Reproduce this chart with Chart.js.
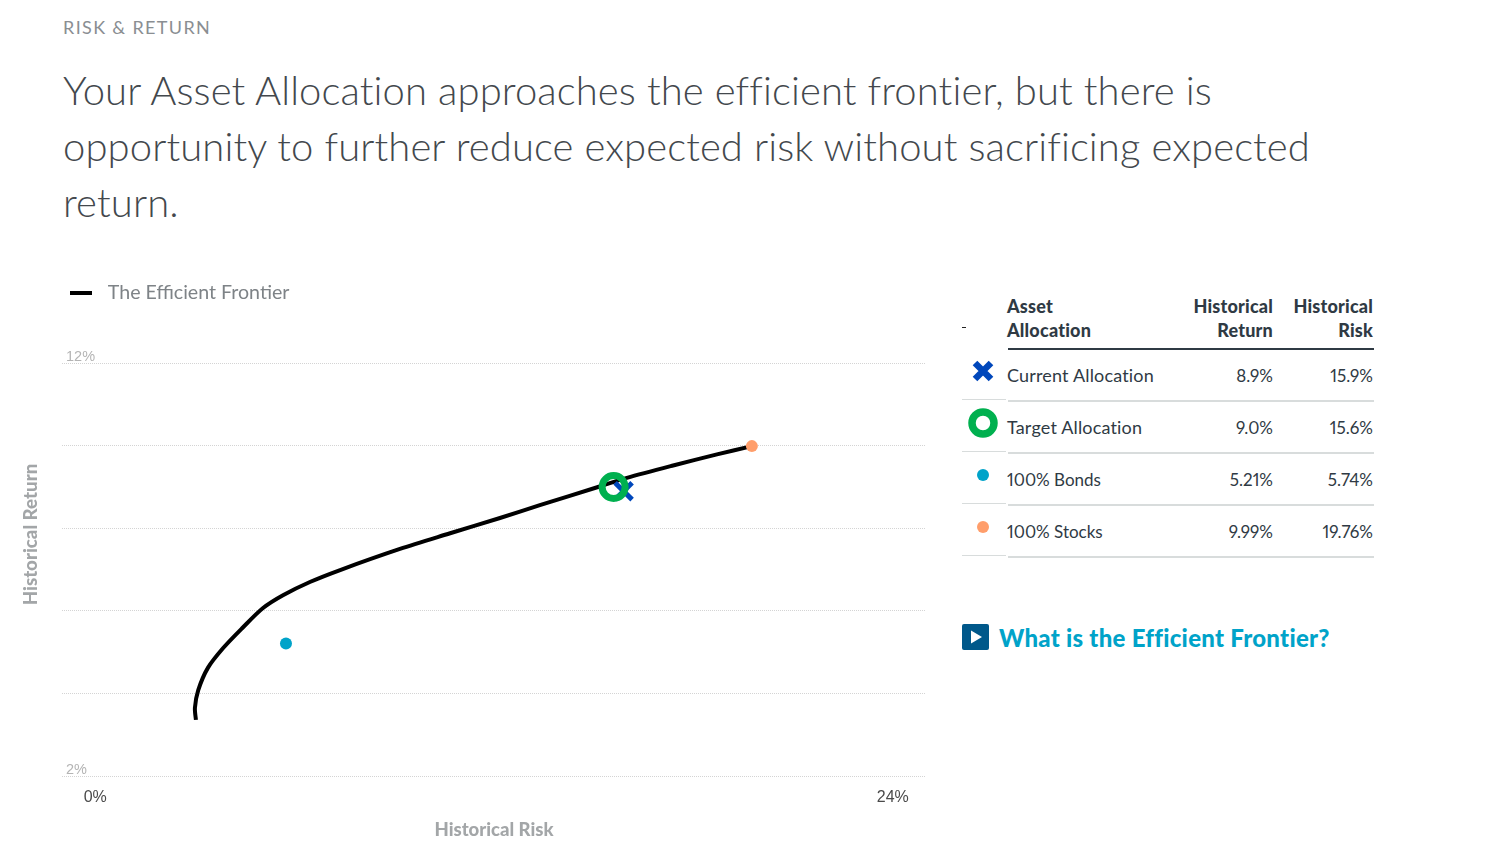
<!DOCTYPE html>
<html>
<head>
<meta charset="utf-8">
<title>Risk & Return</title>
<script src="https://cdn.jsdelivr.net/npm/chart.js@4/dist/chart.umd.min.js"></script>
<style>
    html, body { margin: 0; padding: 0; background: #fff; }
    body { position: relative; width: 1490px; height: 854px; overflow: hidden; font-family: Lato, sans-serif; font-variant-numeric: proportional-nums; }
    #eyebrow { position: absolute; left: 63px; top: 16px; font-size: 18px; line-height: 22px; letter-spacing: 1.35px; color: #8a8e92; }
    #headline { position: absolute; left: 63px; top: 62px; width: 1300px; font-size: 40px; line-height: 56px; font-weight: 300; letter-spacing: 0.1px; color: #43484d; }
    #chartBox { position: absolute; left: 0; top: 283px; }
    #allocTable { position: absolute; left: 0; top: 0; }
    .cell { position: absolute; font-size: 18px; line-height: 24px; letter-spacing: 0.17px; color: #2f3a44; white-space: nowrap; }
    .head { font-weight: 900; letter-spacing: 0.2px; }
    .num { font-size: 17px; letter-spacing: 0; }
    .right { text-align: right; }
    .rule { position: absolute; background: #d8dcdc; }
    #link { position: absolute; left: 999px; top: 623px; font-size: 24px; line-height: 30px; font-weight: 900; letter-spacing: 0.27px; color: #00a3c9; white-space: nowrap; }
    #playIcon { position: absolute; left: 962px; top: 624px; }
</style>
</head>
<body>
<div id="eyebrow">RISK &amp; RETURN</div>
<div id="headline">Your Asset Allocation approaches the efficient frontier, but there is<br>opportunity to further reduce expected risk without sacrificing expected<br>return.</div>
<div id="chartBox"><canvas id="frontier_chart" width="940" height="567"></canvas></div>
<div id="allocTable"></div>
<svg id="playIcon" width="27" height="26"><rect width="27" height="26" rx="2" fill="#00588a"/><path d="M9 6.5 L20 13 L9 19.5 Z" fill="#fff"/></svg>
<div id="link">What is the Efficient Frontier?</div>

<script>
// frontier curve, risk (x) against return (y), in percent
var frontierRisk = [3.03, 3.00, 3.10, 3.39, 3.85, 4.42, 5.05, 5.65, 6.46, 7.37, 9.17, 10.68, 12.18, 13.38, 15.13, 16.00, 17.39, 18.71, 19.76];
var frontierReturn = [3.36, 3.65, 4.08, 4.62, 5.10, 5.58, 6.07, 6.38, 6.70, 6.99, 7.50, 7.88, 8.25, 8.56, 9.00, 9.22, 9.52, 9.79, 9.99];

// table rows, the markers read the same values
var allocNames = ["Current Allocation", "Target Allocation", "100% Bonds", "100% Stocks"];
var allocReturn = ["8.9%", "9.0%", "5.21%", "9.99%"];
var allocRisk = ["15.9%", "15.6%", "5.74%", "19.76%"];

var xTickValues = [0, 24];
var yTickValues = [2, 4, 6, 8, 10, 12];
var yTickLabels = { 2: "2%", 12: "12%" };

function allocPoint(i) {
    return [{ x: parseFloat(allocRisk[i]), y: parseFloat(allocReturn[i]) }];
}

// legend swatch: short thick dash, with room either side so the text sits right
var swatch = document.createElement("canvas");
swatch.width = 36;
swatch.height = 4;
var swatchCtx = swatch.getContext("2d");
swatchCtx.fillStyle = "#000";
swatchCtx.fillRect(8, 0, 22, 4);

var ctx = document.getElementById("frontier_chart");
var myChart = new Chart(ctx, {
    type: "scatter",
    data: {
        datasets: [{
            label: allocNames[1],
            data: allocPoint(1),
            pointStyle: "circle",
            pointRadius: 11.5,
            pointBorderWidth: 7,
            pointBorderColor: "#00b04f",
            pointBackgroundColor: "transparent"
        }, {
            label: allocNames[0],
            data: allocPoint(0),
            pointStyle: "crossRot",
            pointRadius: 12,
            pointBorderWidth: 5,
            pointBorderColor: "#0047bb"
        }, {
            label: allocNames[2],
            data: allocPoint(2),
            pointRadius: 6,
            pointBorderWidth: 0,
            pointBackgroundColor: "#00a3c9"
        }, {
            label: allocNames[3],
            data: allocPoint(3),
            pointRadius: 6,
            pointBorderWidth: 0,
            pointBackgroundColor: "#ff9e6b"
        }, {
            label: "The Efficient Frontier",
            data: frontierRisk.map(function (r, i) { return { x: r, y: frontierReturn[i] }; }),
            showLine: true,
            pointRadius: 0,
            borderColor: "#000",
            borderWidth: 4,
            tension: 0.3
        }]
    },
    options: {
        responsive: false,
        animation: false,
        layout: { autoPadding: false, padding: { right: 14 } },
        plugins: {
            tooltip: { enabled: false },
            legend: {
                position: "chartArea",
                align: "start",
                labels: {
                    usePointStyle: true,
                    pointStyleWidth: 36,
                    padding: 0,
                    font: { family: "Lato", size: 19.6 },
                    color: "#7e8387",
                    generateLabels: function () {
                        return [{ text: "The Efficient Frontier", pointStyle: swatch, fontColor: "#7e8387", lineWidth: 0, datasetIndex: 4 }];
                    }
                }
            }
        },
        scales: {
            x: {
                min: -1,
                max: 25,
                afterFit: function (scale) { scale.height = 64; },
                afterBuildTicks: function (scale) {
                    scale.ticks = xTickValues.map(function (v) { return { value: v }; });
                },
                grid: { display: false, drawTicks: false },
                border: { display: false },
                ticks: {
                    autoSkip: false,
                    maxRotation: 0,
                    padding: 2,
                    color: "#4a4a4a",
                    font: { family: "Liberation Sans", size: 16 },
                    callback: function (v) { return v + "%"; }
                },
                title: {
                    display: true,
                    text: "Historical Risk",
                    color: "#a3a6a8",
                    font: { family: "Lato", size: 18.5, weight: "900" },
                    padding: { top: 2, bottom: 9 }
                }
            },
            y: {
                min: 1.76,
                max: 13.94,
                afterFit: function (scale) {
                    scale.width = 62;
                    // mirrored labels sit inside the plot, no room needed above or below
                    scale.paddingTop = 0;
                    scale.paddingBottom = 0;
                },
                afterBuildTicks: function (scale) {
                    scale.ticks = yTickValues.map(function (v) { return { value: v }; });
                },
                grid: { color: "#d4d4d4", lineWidth: 1, drawTicks: false },
                border: { display: false, dash: [1, 1] },
                ticks: {
                    autoSkip: false,
                    mirror: true,
                    padding: 4,
                    labelOffset: -6,
                    color: "#b4b4b4",
                    font: { family: "Liberation Sans", size: 14.5 },
                    callback: function (v) { return yTickLabels[v] || ""; }
                },
                title: {
                    display: true,
                    text: "Historical Return",
                    color: "#a3a6a8",
                    font: { family: "Lato", size: 18.7, weight: "900" },
                    padding: { top: 20, bottom: 0 }
                }
            }
        }
    }
});

// table on the right
var table = document.getElementById("allocTable");

function addCell(text, left, top, width, cls) {
    var d = document.createElement("div");
    d.className = "cell " + cls;
    d.style.left = left + "px";
    d.style.top = top + "px";
    if (width) d.style.width = width + "px";
    d.innerHTML = text;
    table.appendChild(d);
}

function addRule(left, top, width, height, color) {
    var d = document.createElement("div");
    d.className = "rule";
    d.style.cssText = "left:" + left + "px;top:" + top + "px;width:" + width + "px;height:" + height + "px;" + (color ? "background:" + color : "");
    table.appendChild(d);
}

addCell("Asset<br>Allocation", 1007, 294, 0, "head");
addCell("Historical<br>Return", 1153, 294, 120, "head right");
addCell("Historical<br>Risk", 1253, 294, 120, "head right");
addRule(1008, 348, 366, 2, "#2f3a44");
addRule(962, 327, 4, 1, "#222");

var icons = [
    '<svg width="26" height="26"><path d="M5 5 L21 21 M21 5 L5 21" stroke="#0047bb" stroke-width="6.5"/></svg>',
    '<svg width="32" height="32"><circle cx="16" cy="16" r="11" fill="none" stroke="#00b04f" stroke-width="7.5"/></svg>',
    '<svg width="14" height="14"><circle cx="7" cy="7" r="6" fill="#00a3c9"/></svg>',
    '<svg width="14" height="14"><circle cx="7" cy="7" r="6" fill="#ff9e6b"/></svg>'
];
var iconSize = [26, 32, 14, 14];

allocNames.forEach(function (name, i) {
    var y = 363 + i * 52;
    addCell(name, 1007, y + (i > 1 ? 1 : 0), 0, i > 1 ? "num" : "");
    addCell(allocReturn[i], 1153, y + 1, 120, "right num");
    addCell(allocRisk[i], 1253, y + 1, 120, "right num");
    addRule(1008, y + 37, 366, 2);
    addRule(962, y + 36, 44, 1);
    var s = document.createElement("div");
    s.style.cssText = "position:absolute;line-height:0;left:" + (983 - iconSize[i] / 2) + "px;top:" + (y + 8 - iconSize[i] / 2) + "px";
    s.innerHTML = icons[i];
    table.appendChild(s);
});
</script>
</body>
</html>
